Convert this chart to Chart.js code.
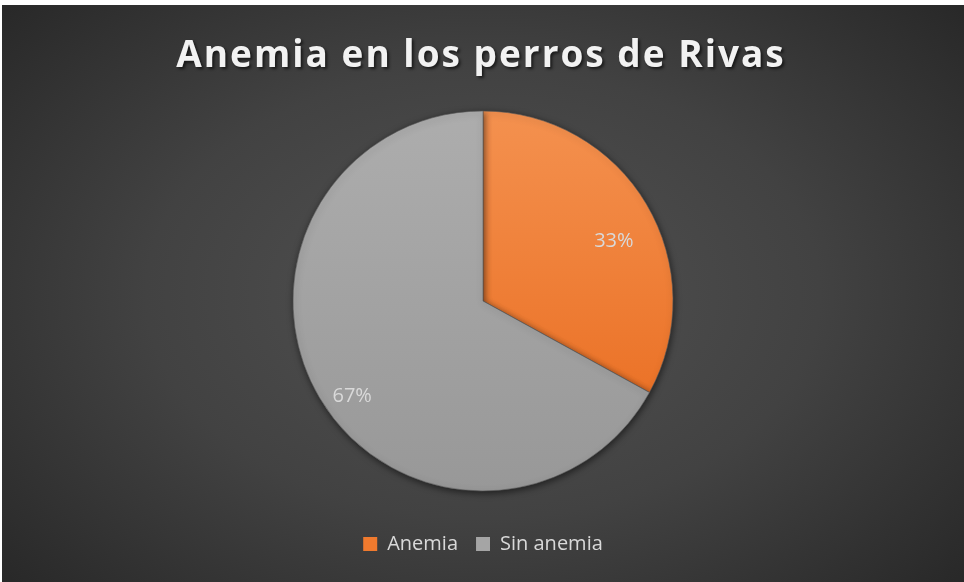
<!DOCTYPE html>
<html>
<head>
<meta charset="utf-8">
<script src="https://cdn.jsdelivr.net/npm/chart.js@4"></script>
<style>
html, body { margin: 0; padding: 0; background: #ffffff; }
#wrap {
  position: absolute; left: 2px; top: 5px; width: 962px; height: 577px;
  background: radial-gradient(ellipse 70% 78% at 50% 50%, #525252 0%, #424242 50%, #262626 100%);
}
</style>
</head>
<body>
<div id="wrap"><canvas id="myChart" width="962" height="577"></canvas></div>
<script>
var chartTitle = "Anemia en los perros de Rivas";
var xValues = ["Anemia", "Sin anemia"];
var yValues = [33, 67];

var total = yValues.reduce(function (a, b) { return a + b; }, 0);
var pctLabels = yValues.map(function (v) { return Math.round(v / total * 100) + "%"; });

// top/bottom colours of each slice gradient, plus flat legend colours
var sliceTop = ["#f4914f", "#adadad"];
var sliceBottom = ["#e8681a", "#989898"];
var legendColors = ["#f07a2e", "#a5a5a5"];

function sliceColor(context) {
  var chart = context.chart;
  var area = chart.chartArea;
  var i = context.dataIndex;
  if (!area) return sliceTop[i];
  var cy = (area.top + area.bottom) / 2;
  var g = chart.ctx.createLinearGradient(0, cy - 190, 0, cy + 190);
  g.addColorStop(0, sliceTop[i]);
  g.addColorStop(1, sliceBottom[i]);
  return g;
}

var titlePlugin = {
  id: "titleText",
  afterDraw: function (chart) {
    var ctx = chart.ctx;
    ctx.save();
    ctx.font = "bold 37px 'Open Sans'";
    ctx.letterSpacing = "2px";
    ctx.textAlign = "center";
    ctx.textBaseline = "middle";
    ctx.shadowColor = "rgba(0,0,0,0.6)";
    ctx.shadowOffsetX = 2;
    ctx.shadowOffsetY = 2;
    ctx.shadowBlur = 3;
    ctx.fillStyle = "#f2f2f2";
    ctx.fillText(chartTitle, chart.width / 2 - 2, 51);
    ctx.restore();
  }
};

var shadowPlugin = {
  id: "pieShadow",
  beforeDatasetDraw: function (chart) {
    var ctx = chart.ctx;
    ctx.save();
    ctx.shadowColor = "rgba(0,0,0,0.55)";
    ctx.shadowBlur = 7;
    ctx.shadowOffsetX = 1;
    ctx.shadowOffsetY = 2;
  },
  afterDatasetDraw: function (chart) {
    chart.ctx.restore();
  }
};

var pctPlugin = {
  id: "pctLabels",
  afterDatasetsDraw: function (chart) {
    var ctx = chart.ctx;
    var meta = chart.getDatasetMeta(0);
    ctx.save();
    ctx.font = "20px 'Open Sans'";
    ctx.fillStyle = "#d9d9d9";
    ctx.textAlign = "center";
    ctx.textBaseline = "middle";
    meta.data.forEach(function (arc, i) {
      var p = arc.getProps(["x", "y", "startAngle", "endAngle", "outerRadius"], true);
      var mid = (p.startAngle + p.endAngle) / 2;
      var d = p.outerRadius * 0.8;
      ctx.fillText(pctLabels[i], p.x + Math.cos(mid) * d, p.y + Math.sin(mid) * d + 18);
    });
    ctx.restore();
  }
};

new Chart("myChart", {
  type: "pie",
  data: {
    labels: xValues,
    datasets: [{
      data: yValues,
      backgroundColor: sliceColor,
      borderColor: "rgba(90,90,90,0.6)",
      borderWidth: 1,
      radius: 190
    }]
  },
  options: {
    responsive: false,
    animation: false,
    layout: { padding: { top: 81, bottom: 18 } },
    plugins: {
      legend: {
        position: "bottom",
        labels: {
          color: "#d9d9d9",
          font: { family: "Open Sans", size: 20 },
          boxWidth: 14,
          boxHeight: 14,
          padding: 18,
          generateLabels: function (chart) {
            return xValues.map(function (name, i) {
              return {
                text: name,
                fillStyle: legendColors[i],
                strokeStyle: "transparent",
                lineWidth: 0,
                fontColor: "#d9d9d9",
                index: i
              };
            });
          }
        }
      },
      tooltip: { enabled: false }
    }
  },
  plugins: [shadowPlugin, pctPlugin, titlePlugin]
});
</script>
</body>
</html>
